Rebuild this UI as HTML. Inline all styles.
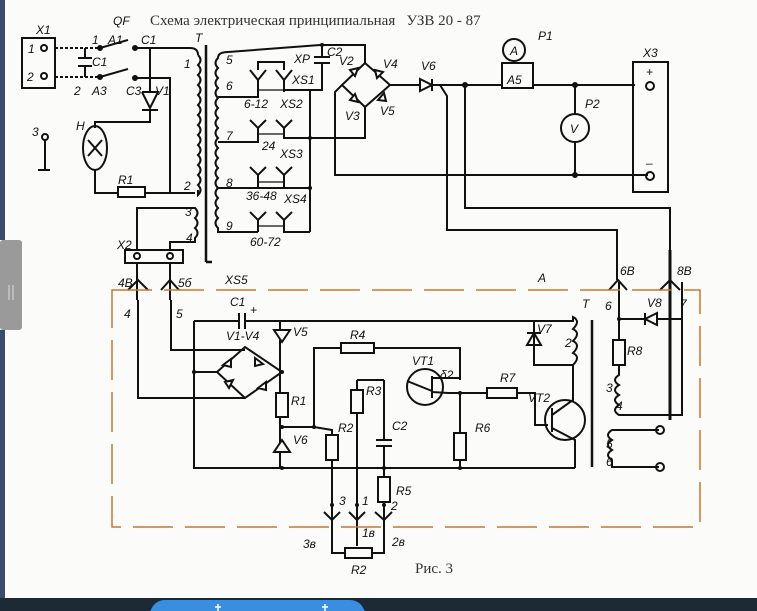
<!DOCTYPE html>
<html><head><meta charset="utf-8"><style>
html,body{margin:0;padding:0;background:#fff;}
body{width:757px;height:611px;overflow:hidden;position:relative;}
svg{position:absolute;left:0;top:0;}
text{font-family:"Liberation Sans",sans-serif;font-style:italic;font-size:12px;fill:#111;}
.t{font-family:"Liberation Serif","DejaVu Serif",serif;font-style:normal;font-size:15px;fill:#333;}
</style></head><body>
<svg width="757" height="611" viewBox="0 0 757 611">
<rect x="0" y="0" width="757" height="611" fill="#fbfbfa"/>
<g stroke="#111" stroke-width="2" fill="none">
<rect x="22" y="38" width="33" height="50"/>
<circle cx="44" cy="48" r="3"/><circle cx="44" cy="76" r="3"/>
<path d="M55 48 H100 M55 77 H100" stroke-dasharray="3 2"/>
<path d="M85 48 V58 M85 66 V77 M78 58 H92 M78 66 H92"/>
<path d="M100 48 L128 40 M135 48 H190 Q198 48 198 55"/>
<path d="M100 77 L128 69 M135 78 H170 V193"/>
<circle cx="100" cy="48" r="2" fill="#111"/><circle cx="135" cy="48" r="2" fill="#111"/>
<circle cx="100" cy="77" r="2" fill="#111"/><circle cx="135" cy="78" r="2" fill="#111"/>
<path d="M150 48 V92 M142 92 H158 L150 108 L142 92 M142 110 H158 M150 110 V122 H95 V128"/>
<ellipse cx="95" cy="148" rx="12" ry="22"/>
<path d="M88 140 L102 156 M102 140 L88 156"/>
<path d="M95 170 V193 H118 M145 193 H195"/>
<rect x="118" y="187" width="27" height="10"/>
<path d="M45 140 V170 M38 170 H50"/><circle cx="45" cy="137" r="3"/>
<path d="M198 55 q5 5 0 10 q5 5 0 10 q5 5 0 10 q5 5 0 10 q5 5 0 10 q5 5 0 10 q5 5 0 10 q5 5 0 10 q5 5 0 10 q5 5 0 10 q5 5 0 10 q5 5 0 10 q5 5 0 10 q5 5 0 10 V190"/>
<path d="M206 45 V262 M206 262 H212" stroke-width="2.5"/>
<path d="M137 250 V208 H195 q5 5 0 10 q5 5 0 10 q5 5 0 10 V242 H170 V250"/>
<rect x="125" y="250" width="58" height="13"/>
<circle cx="137" cy="256" r="3"/><circle cx="170" cy="256" r="3"/>
<path d="M137 263 V300 M170 263 V300 M128 290 L138 280 L148 290 M161 290 L170 280 L179 290"/>
<path d="M228 52 Q218 52 218 58 q-5 5 0 10 q-5 5 0 10 q-5 5 0 10 q-5 5 0 10 q-5 5 0 10 q-5 5 0 10 q-5 5 0 10 q-5 5 0 10 q-5 5 0 10 q-5 5 0 10 q-5 5 0 10 q-5 5 0 10 q-5 5 0 10 q-5 5 0 10 q-5 5 0 10 q-5 5 0 10 q-5 5 0 10 V232 H258"/>
<path d="M228 52 L320 45 H365 V63"/>
<path d="M322 45 V56 M314 57 H330 M314 63 H330 M322 63 V90 H284"/>
<path d="M218 97 H258 V80 M284 80 V92"/>
<path d="M250 70 L258 80 L266 70 M276 70 L284 80 L292 70 M258 70 V62 H284 V70"/>
<path d="M218 142 H258 V128 M250 120 L258 128 L266 120 M276 120 L284 128 L292 120 M284 128 V138 H310"/>
<path d="M218 188 H310 M258 188 V175 M250 167 L258 175 L266 167 M276 167 L284 175 L292 167 M284 175 V188"/>
<path d="M258 232 V220 M250 212 L258 220 L266 212 M276 212 L284 220 L292 212 M284 220 V232 H310"/>
<path d="M310 90 V232 M310 138 H365 V107"/>
<path d="M258 90 H284 M258 134 H284 M258 182 H284 M258 226 H284" stroke-width="1.2"/>
<path d="M365 63 L390 85 L365 107 L342 85 Z"/>
<path d="M342 85 L335 92 V175 H648"/>
<path d="M350 70 l8 -2 l-3 8 z M375 70 l8 2 l-6 6 z M350 100 l8 2 l-3 -8 z M378 100 l6 -7 l2 8 z" fill="#fff"/>
<path d="M390 85 H420 M420 79 V91 L432 85 Z M432 79 V91 M432 85 H502 M533 85 H635"/>
<rect x="502" y="63" width="31" height="25"/>
<circle cx="514" cy="50" r="11"/>
<path d="M575 85 V114 M575 142 V175"/>
<circle cx="575" cy="128" r="14"/>
<rect x="633" y="62" width="35" height="130"/>
<circle cx="650" cy="86" r="4"/><circle cx="650" cy="176" r="4"/>
<path d="M465 85 V208 H670 V280"/>
<path d="M440 85 L447 96 V230 H617 V280"/>
<path d="M670 250 V420" stroke-width="3"/>
<circle cx="465" cy="85" r="2" fill="#111"/><circle cx="575" cy="85" r="2" fill="#111"/><circle cx="575" cy="175" r="2" fill="#111"/>
<path d="M138 300 V398 H245 M171 300 V350 H245"/>
<path d="M194 321 H239 M245 321 H280 V468 M239 313 V329 M245 313 V329 M194 321 V468 H575"/>
<path d="M194 372 H217 M217 372 L245 347 L282 372 L245 398 Z"/>
<path d="M223 365 l8 -6 l0 8z M255 358 l8 6 l-8 2z M225 382 l8 -2 l-4 8z M258 388 l8 -6 l0 8z" fill="#fff"/>
<rect x="276" y="393" width="12" height="24" fill="#fbfbfa"/>
<path d="M274 330 H290 L282 342 Z M274 452 H290 L282 440 Z" fill="#fff"/>
<path d="M282 427 H314 V348 H341 M374 348 H460 V380"/>
<rect x="341" y="343" width="33" height="10"/>
<path d="M314 427 L332 430 V435 M332 460 V520"/>
<rect x="326" y="435" width="12" height="25"/>
<path d="M357 380 H384 M357 380 V390 M357 413 V520"/>
<rect x="351" y="390" width="12" height="23"/>
<path d="M384 380 V440 M376 440 H392 M376 446 H392 M384 446 V477 M384 502 V520"/>
<rect x="378" y="477" width="12" height="25"/>
<circle cx="425" cy="387" r="18"/>
<path d="M407 381 L432 391 M432 376 V398 M432 378 H460 M432 392 L448 393 H487 M517 393 H535 V425 H548"/>
<rect x="487" y="388" width="30" height="10"/>
<path d="M460 393 V433 M460 460 V468"/>
<rect x="454" y="433" width="12" height="27"/>
<circle cx="565" cy="420" r="20"/>
<path d="M552 408 V432 M552 415 L573 400 V365 M552 428 L575 440 V468"/>
<path d="M280 321 H573 V317 q8 4 0 12 q8 4 0 12 q8 4 0 12 q8 4 0 12 V365 H534 V321 M527 345 H541 L534 333 Z M527 333 H541"/>
<path d="M592 320 V467" stroke-width="2.5"/>
<path d="M619 282 V340 M619 365 V375 q-8 5 0 10 q-8 5 0 10 q-8 5 0 10 q-8 5 0 10 H682 V282 M619 319 H645 M645 313 V325 M657 313 L645 319 L657 325 Z M657 319 H682"/>
<rect x="613" y="340" width="12" height="25"/>
<path d="M659 430 H612 q-8 5 0 10 q-8 5 0 10 q-8 5 0 10 V467 H659"/>
<circle cx="660" cy="430" r="4"/><circle cx="660" cy="467" r="4"/>
<path d="M609 290 L618 280 L627 290 M660 290 L670 280 L680 290"/>
<path d="M324 512 L332 520 L340 512 M349 512 L357 520 L365 512 M375 512 L384 520 L392 512"/>
<path d="M332 520 V553 H345 M384 520 V553 H372 M357 520 V546"/>
<rect x="345" y="548" width="27" height="10"/>
<g fill="#111" stroke="none">
<circle cx="194" cy="372" r="2"/><circle cx="282" cy="372" r="2"/><circle cx="282" cy="427" r="2"/><circle cx="314" cy="427" r="2"/><circle cx="282" cy="468" r="2"/><circle cx="384" cy="468" r="2"/><circle cx="460" cy="468" r="2"/><circle cx="460" cy="393" r="2"/><circle cx="619" cy="319" r="2"/><circle cx="332" cy="505" r="2"/><circle cx="357" cy="505" r="2"/><circle cx="384" cy="505" r="2"/><circle cx="310" cy="138" r="2"/><circle cx="310" cy="188" r="2"/><circle cx="322" cy="45" r="2"/>
</g>
</g>
<rect x="112" y="290" width="588" height="237" fill="none" stroke="#c8782c" stroke-width="1.5" stroke-dasharray="40 12"/>
<text x="113" y="25" font-size="11">QF</text>
<text class="t" x="150" y="25" font-size="14">Схема электрическая принципиальная&#160;&#160;&#160;УЗВ 20 - 87</text>
<text x="36" y="34" font-size="8">X1</text>
<text x="28" y="53">1</text><text x="27" y="81">2</text>
<text x="92" y="44">1</text><text x="108" y="44">A1</text><text x="141" y="44">C1</text>
<text x="92" y="66">C1</text><text x="74" y="95">2</text><text x="92" y="95">A3</text><text x="126" y="95">C3</text><text x="155" y="95">V1</text>
<text x="195" y="42">T</text><text x="184" y="68">1</text><text x="184" y="190">2</text>
<text x="76" y="130">H</text><text x="118" y="184">R1</text><text x="32" y="136">3</text>
<text x="185" y="216" font-size="9">3</text><text x="186" y="242" font-size="9">4</text>
<text x="117" y="249">X2</text><text x="118" y="287">4B</text><text x="178" y="287">5б</text><text x="225" y="284">XS5</text>
<text x="226" y="64">5</text><text x="226" y="90">6</text><text x="226" y="140">7</text><text x="226" y="187">8</text><text x="226" y="230">9</text>
<text x="294" y="63">XP</text><text x="292" y="84">XS1</text><text x="327" y="56" font-size="10">C2</text>
<text x="339" y="65">V2</text><text x="383" y="68">V4</text><text x="345" y="120">V3</text><text x="380" y="115">V5</text>
<text x="244" y="108">6-12</text><text x="280" y="108">XS2</text><text x="262" y="150">24</text>
<text x="280" y="158">XS3</text><text x="246" y="200">36-48</text><text x="284" y="203">XS4</text><text x="250" y="246">60-72</text>
<text x="421" y="70">V6</text><text x="510" y="55">A</text><text x="507" y="84" font-size="10">A5</text><text x="538" y="40">P1</text>
<text x="585" y="108">P2</text><text x="570" y="133">V</text>
<text x="643" y="57">X3</text><text x="646" y="76">+</text><text x="646" y="167">–</text>
<text x="538" y="282">A</text><text x="620" y="275">6B</text><text x="677" y="275">8B</text>
<text x="124" y="318">4</text><text x="176" y="318">5</text>
<text x="230" y="306">C1</text><text x="250" y="314">+</text><text x="226" y="340" font-size="10">V1-V4</text><text x="293" y="336">V5</text>
<text x="350" y="339">R4</text><text x="291" y="405">R1</text><text x="293" y="444">V6</text><text x="338" y="432">R2</text><text x="366" y="395">R3</text>
<text x="392" y="430">C2</text><text x="396" y="495">R5</text><text x="412" y="365">VT1</text><text x="440" y="379" font-size="10">δ2</text>
<text x="500" y="382">R7</text><text x="528" y="402">VT2</text><text x="475" y="432">R6</text><text x="537" y="333">V7</text><text x="565" y="347">2</text>
<text x="582" y="308">T</text><text x="605" y="310">6</text><text x="647" y="307">V8</text><text x="680" y="308">7</text>
<text x="627" y="355">R8</text><text x="606" y="392">3</text><text x="616" y="410">4</text><text x="606" y="448">5</text><text x="606" y="466">6</text>
<text x="339" y="505">3</text><text x="362" y="505">1</text><text x="391" y="510">2</text>
<text x="303" y="548">3в</text><text x="362" y="537">1в</text><text x="392" y="546">2в</text><text x="351" y="574">R2</text>
<text class="t" x="415" y="573">Рис. 3</text>
<rect x="0" y="0" width="5" height="240" fill="#3c4b6b"/>
<rect x="0" y="240" width="22" height="90" rx="3" fill="#9a9a9a"/>
<path d="M9 285 V300 M13 285 V300" stroke="#ddd" stroke-width="1"/>
<rect x="0" y="330" width="5" height="270" fill="#3c4b6b"/>
<rect x="0" y="598" width="757" height="13" fill="#1d2a36"/>
<rect x="150" y="600" width="215" height="30" rx="15" fill="#3a8ee0"/>
<path d="M218 604 V611 M215 607 H221 M325 604 V611 M322 607 H328" stroke="#fff" stroke-width="1.5"/>
</svg>
</body></html>
